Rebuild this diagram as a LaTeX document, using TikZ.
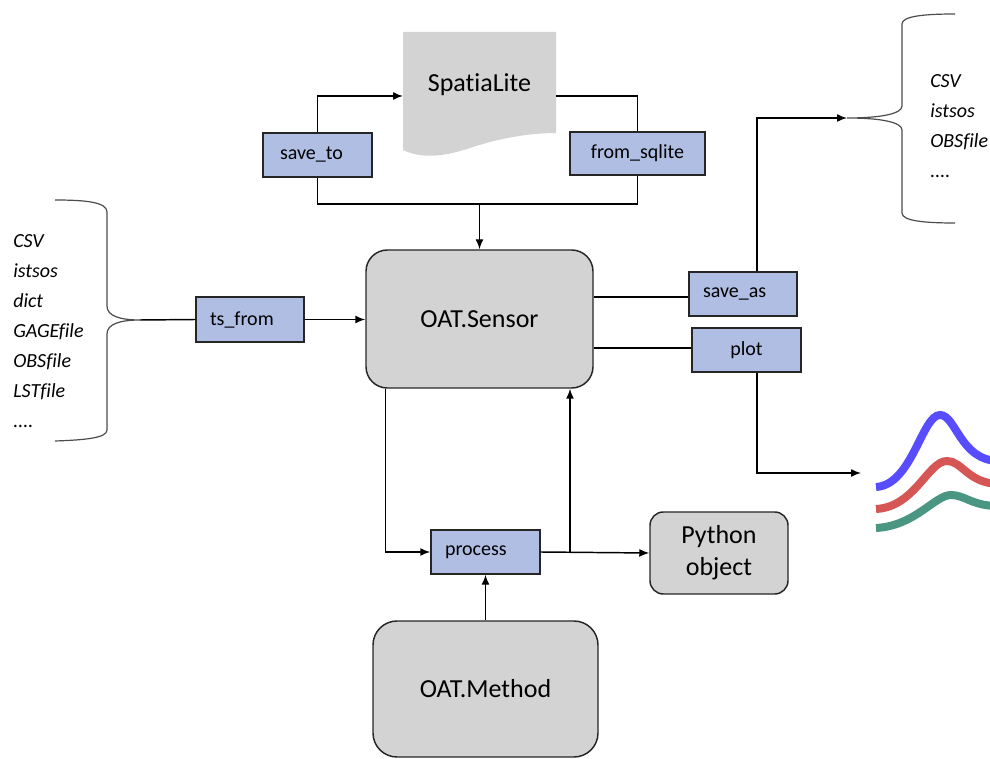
\documentclass[tikz,border=0pt]{standalone}
\usepackage{fontspec}
\setmainfont{Carlito}[Ligatures=NoCommon]
\usetikzlibrary{arrows.meta}
\definecolor{boxblue}{RGB}{176,190,228}
\definecolor{boxgray}{RGB}{211,211,211}
\definecolor{cblue}{RGB}{88,76,255}
\definecolor{cred}{RGB}{214,86,86}
\definecolor{cgreen}{RGB}{74,150,130}
\begin{document}
\begin{tikzpicture}[x=0.75pt,y=-0.75pt,
  conn/.style={line width=1.1pt, draw=black},
  arr/.style={conn,-{Latex[length=7.5pt,width=6pt]}},
  bracestyle/.style={line width=0.9pt, draw=black!70},
  fnbox/.style={draw=black!85, line width=1.1pt, fill=boxblue, inner ysep=0pt,
    font=\fontsize{15}{18}\selectfont},
  fnleft/.style={fnbox, align=left, text width=#1, inner xsep=10.5pt},
  bigbox/.style={draw=black!85, line width=1.1pt, fill=boxgray, inner sep=0pt,
    font=\fontsize{19.5}{24}\selectfont, align=center},
  listitem/.style={anchor=base west, inner sep=0pt, font=\fontsize{15}{18}\selectfont\itshape}
]
\useasboundingbox (0,0) rectangle (990,759);

% SpatiaLite document shape
\fill[boxgray] (403,32) -- (556,32) -- (556,133)
  .. controls (530,133) and (500,138) .. (470,148)
  .. controls (440,158) and (420,158) .. (403,150) -- cycle;
\node[inner sep=0pt, font=\fontsize{19.5}{24}\selectfont] (spl) at (479.5,85) {SpatiaLite};
\coordinate (splw) at (403,96);
\coordinate (sple) at (556,96);

% function boxes
\node[fnleft=56.25pt, inner xsep=12.75pt, minimum width=81.75pt, minimum height=33pt] (saveto) at (317.5,155) {save\_to};
\node[fnbox, minimum width=101.25pt, minimum height=32.25pt] (fromsql) at (637.5,153.5) {from\_sqlite};
\node[fnleft=60pt, minimum width=81pt, minimum height=33.75pt] (tsfrom) at (250,319.5) {ts\_from};
\node[fnleft=60pt, minimum width=81pt, minimum height=33pt] (saveas) at (743,294) {save\_as};
\node[fnbox, minimum width=81.75pt, minimum height=33pt] (plot) at (746.5,350) {plot};
\node[fnleft=60.75pt, minimum width=81.75pt, minimum height=33pt] (process) at (485.5,552) {process};

% main nodes
\node[bigbox, rounded corners=16pt, minimum width=170.25pt, minimum height=103.5pt] (sensor) at (479.5,319) {OAT.Sensor};
\node[bigbox, rounded corners=18pt, minimum width=168.75pt, minimum height=102pt] (method) at (485.5,689) {OAT.Method};
\node[bigbox, rounded corners=10pt, minimum width=103.5pt, minimum height=61.5pt] (python) at (719,553) {Python\\object};

% lists
\node[listitem] (l1) at (13,248) {CSV};
\node[listitem] (l2) at (13,278) {istsos};
\node[listitem] (l3) at (13,308) {dict};
\node[listitem] (l4) at (13,338) {GAGEfile};
\node[listitem] (l5) at (13,368) {OBSfile};
\node[listitem] (l6) at (13,398) {LSTfile};
\node[listitem] (l7) at (13,428) {....};

\node[listitem] (r1) at (930,88) {CSV};
\node[listitem] (r2) at (930,118) {istsos};
\node[listitem] (r3) at (930,148) {OBSfile};
\node[listitem] (r4) at (930,178) {....};

% braces
\coordinate (lb) at (140,320);
\draw[bracestyle] (55,200) .. controls (85,200) and (107,202) .. (107,212) -- (107,306)
  .. controls (107,316) and (120,320) .. (lb)
  .. controls (120,320) and (107,324) .. (107,334) -- (107,430)
  .. controls (107,438) and (85,440) .. (55,441);
\coordinate (rb) at (847,118);
\draw[bracestyle] (955,14) .. controls (925,14) and (902,16) .. (902,24) -- (902,106)
  .. controls (902,114) and (880,118) .. (rb)
  .. controls (880,118) and (902,122) .. (902,130) -- (902,213)
  .. controls (902,221) and (925,223) .. (955,223);

% connectors
\coordinate (jn) at (479.5,204);
\draw[arr] (saveto.north) |- (splw);
\draw[conn] (sple) -| (fromsql.north);
\draw[conn] (saveto.south) |- (jn) -| (fromsql.south);
\draw[arr] (jn) -- (sensor.north);
\draw[conn] (lb) -- (tsfrom.west);
\draw[arr] (tsfrom.east) -- (sensor.west |- tsfrom.east);
\draw[conn] (sensor.east |- 0,297) -- (saveas.west |- 0,297);
\draw[conn] (sensor.east |- 0,348) -- (plot.west |- 0,348);
\coordinate (sa) at (757,118);
\draw[arr] (saveas.north -| sa) |- (rb);
\coordinate (pd) at (757,473);
\coordinate (ce) at (861,473);
\draw[arr] (plot.south -| pd) -- (pd) -- (ce);
\draw[arr] ([xshift=15pt]sensor.south west) |- (process.west);
\draw[arr] (process.east) -- (python.west);
\coordinate (pj) at (570,552);
\draw[arr] (pj) -- (pj |- sensor.south);
\draw[arr] (method.north) -- (process.south);

% plot curves
\begin{scope}
\clip (0,0) rectangle (990,759);
\draw[cblue, line width=6pt] (876,487) .. controls (912,485) and (922,415) .. (940,415)
  .. controls (956,415) and (960,460) .. (998,461);
\draw[cred, line width=6pt] (876,509) .. controls (915,507) and (928,461) .. (947,461)
  .. controls (962,461) and (968,483) .. (998,484);
\draw[cgreen, line width=6pt] (876,528) .. controls (915,526) and (935,495) .. (951,495)
  .. controls (965,495) and (972,506) .. (998,506);
\end{scope}
\end{tikzpicture}
\end{document}
